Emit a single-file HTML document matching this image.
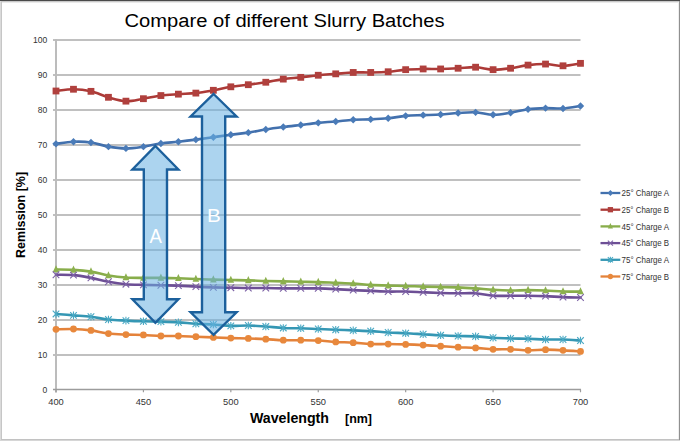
<!DOCTYPE html><html><head><meta charset="utf-8"><style>html,body{margin:0;padding:0;background:#fff;}svg{display:block;}text{font-family:"Liberation Sans",sans-serif;}</style></head><body>
<svg width="680" height="441" viewBox="0 0 680 441">
<rect x="0" y="0" width="680" height="441" fill="#fff"/>
<rect x="0" y="0" width="680" height="1" fill="#4a4a4a"/>
<rect x="0" y="1" width="680" height="1" fill="#c8c8c8"/>
<rect x="0" y="2" width="680" height="1" fill="#eaeaea"/>
<rect x="0" y="1" width="1" height="440" fill="#dadada"/>
<rect x="1" y="2" width="1" height="438" fill="#c6c6c6"/>
<rect x="678" y="2" width="1" height="438" fill="#eeeeee"/>
<rect x="679" y="1" width="1" height="440" fill="#909090"/>
<rect x="1" y="439" width="678" height="1" fill="#c2c2c2"/>
<rect x="0" y="440" width="680" height="1" fill="#d6d6d6"/>
<path d="M53.0,355.00 H580.5 M53.0,320.00 H580.5 M53.0,285.00 H580.5 M53.0,250.00 H580.5 M53.0,215.00 H580.5 M53.0,180.00 H580.5 M53.0,145.00 H580.5 M53.0,110.00 H580.5 M53.0,75.00 H580.5 M53.0,40.00 H580.5" stroke="#c0c0c0" stroke-width="2" fill="none"/>
<path d="M56.0,39.00 V392.50" stroke="#bcbcbc" stroke-width="2" fill="none"/>
<path d="M53.0,389.5 H581.0" stroke="#9c9c9c" stroke-width="1.3" fill="none"/>
<path d="M56.00,389.5 V392.3 M143.42,389.5 V392.3 M230.83,389.5 V392.3 M318.25,389.5 V392.3 M405.67,389.5 V392.3 M493.08,389.5 V392.3 M580.50,389.5 V392.3" stroke="#9c9c9c" stroke-width="1.2" fill="none"/>
<text transform="translate(47.2,392.90) scale(0.88,1)" font-size="9.7" fill="#333" text-anchor="end">0</text>
<text transform="translate(47.2,357.90) scale(0.88,1)" font-size="9.7" fill="#333" text-anchor="end">10</text>
<text transform="translate(47.2,322.90) scale(0.88,1)" font-size="9.7" fill="#333" text-anchor="end">20</text>
<text transform="translate(47.2,287.90) scale(0.88,1)" font-size="9.7" fill="#333" text-anchor="end">30</text>
<text transform="translate(47.2,252.90) scale(0.88,1)" font-size="9.7" fill="#333" text-anchor="end">40</text>
<text transform="translate(47.2,217.90) scale(0.88,1)" font-size="9.7" fill="#333" text-anchor="end">50</text>
<text transform="translate(47.2,182.90) scale(0.88,1)" font-size="9.7" fill="#333" text-anchor="end">60</text>
<text transform="translate(47.2,147.90) scale(0.88,1)" font-size="9.7" fill="#333" text-anchor="end">70</text>
<text transform="translate(47.2,112.90) scale(0.88,1)" font-size="9.7" fill="#333" text-anchor="end">80</text>
<text transform="translate(47.2,77.90) scale(0.88,1)" font-size="9.7" fill="#333" text-anchor="end">90</text>
<text transform="translate(47.2,42.90) scale(0.88,1)" font-size="9.7" fill="#333" text-anchor="end">100</text>
<text x="56.00" y="404.6" font-size="9.3" fill="#333" text-anchor="middle">400</text>
<text x="143.42" y="404.6" font-size="9.3" fill="#333" text-anchor="middle">450</text>
<text x="230.83" y="404.6" font-size="9.3" fill="#333" text-anchor="middle">500</text>
<text x="318.25" y="404.6" font-size="9.3" fill="#333" text-anchor="middle">550</text>
<text x="405.67" y="404.6" font-size="9.3" fill="#333" text-anchor="middle">600</text>
<text x="493.08" y="404.6" font-size="9.3" fill="#333" text-anchor="middle">650</text>
<text x="580.50" y="404.6" font-size="9.3" fill="#333" text-anchor="middle">700</text>
<text x="284.5" y="26.5" font-size="18" fill="#000" text-anchor="middle" textLength="320" lengthAdjust="spacingAndGlyphs">Compare of different Slurry Batches</text>
<text x="289.5" y="422.8" font-size="14" font-weight="bold" fill="#000" text-anchor="middle" textLength="79" lengthAdjust="spacingAndGlyphs">Wavelength</text>
<text x="358.5" y="422.6" font-size="12" font-weight="bold" fill="#000" text-anchor="middle" textLength="27" lengthAdjust="spacingAndGlyphs">[nm]</text>
<text transform="translate(25.4,214.9) rotate(-90)" x="0" y="0" font-size="13" font-weight="bold" fill="#000" text-anchor="middle" textLength="86" lengthAdjust="spacingAndGlyphs">Remission [%]</text>
<path d="M56.00,143.85 C58.91,143.50 67.66,141.98 73.48,141.75 C79.31,141.52 85.14,141.63 90.97,142.45 C96.79,143.27 102.62,145.66 108.45,146.65 C114.28,147.64 120.11,148.40 125.93,148.40 C131.76,148.40 137.59,147.47 143.42,146.65 C149.24,145.83 155.07,144.32 160.90,143.50 C166.73,142.68 172.56,142.39 178.38,141.75 C184.21,141.11 190.04,140.41 195.87,139.65 C201.69,138.89 207.52,138.02 213.35,137.20 C219.18,136.38 225.01,135.51 230.83,134.75 C236.66,133.99 242.49,133.53 248.32,132.65 C254.14,131.78 259.97,130.43 265.80,129.50 C271.63,128.57 277.46,127.81 283.28,127.05 C289.11,126.29 294.94,125.65 300.77,124.95 C306.59,124.25 312.42,123.43 318.25,122.85 C324.08,122.27 329.91,121.98 335.73,121.45 C341.56,120.93 347.39,120.05 353.22,119.70 C359.04,119.35 364.87,119.58 370.70,119.35 C376.53,119.12 382.36,118.88 388.18,118.30 C394.01,117.72 399.84,116.38 405.67,115.85 C411.49,115.32 417.32,115.38 423.15,115.15 C428.98,114.92 434.81,114.80 440.63,114.45 C446.46,114.10 452.29,113.40 458.12,113.05 C463.94,112.70 469.77,112.06 475.60,112.35 C481.43,112.64 487.26,114.74 493.08,114.80 C498.91,114.86 504.74,113.63 510.57,112.70 C516.39,111.77 522.22,109.96 528.05,109.20 C533.88,108.44 539.71,108.27 545.53,108.15 C551.36,108.03 557.19,108.85 563.02,108.50 C568.84,108.15 577.59,106.46 580.50,106.05" stroke="#4270ad" stroke-width="2.6" fill="none" stroke-linejoin="round" stroke-linecap="round"/>
<g><path d="M56.00,140.15 L59.70,143.85 L56.00,147.55 L52.30,143.85 Z" fill="#4a7bb8"/><path d="M73.48,138.05 L77.18,141.75 L73.48,145.45 L69.78,141.75 Z" fill="#4a7bb8"/><path d="M90.97,138.75 L94.67,142.45 L90.97,146.15 L87.27,142.45 Z" fill="#4a7bb8"/><path d="M108.45,142.95 L112.15,146.65 L108.45,150.35 L104.75,146.65 Z" fill="#4a7bb8"/><path d="M125.93,144.70 L129.63,148.40 L125.93,152.10 L122.23,148.40 Z" fill="#4a7bb8"/><path d="M143.42,142.95 L147.12,146.65 L143.42,150.35 L139.72,146.65 Z" fill="#4a7bb8"/><path d="M160.90,139.80 L164.60,143.50 L160.90,147.20 L157.20,143.50 Z" fill="#4a7bb8"/><path d="M178.38,138.05 L182.08,141.75 L178.38,145.45 L174.68,141.75 Z" fill="#4a7bb8"/><path d="M195.87,135.95 L199.57,139.65 L195.87,143.35 L192.17,139.65 Z" fill="#4a7bb8"/><path d="M213.35,133.50 L217.05,137.20 L213.35,140.90 L209.65,137.20 Z" fill="#4a7bb8"/><path d="M230.83,131.05 L234.53,134.75 L230.83,138.45 L227.13,134.75 Z" fill="#4a7bb8"/><path d="M248.32,128.95 L252.02,132.65 L248.32,136.35 L244.62,132.65 Z" fill="#4a7bb8"/><path d="M265.80,125.80 L269.50,129.50 L265.80,133.20 L262.10,129.50 Z" fill="#4a7bb8"/><path d="M283.28,123.35 L286.98,127.05 L283.28,130.75 L279.58,127.05 Z" fill="#4a7bb8"/><path d="M300.77,121.25 L304.47,124.95 L300.77,128.65 L297.07,124.95 Z" fill="#4a7bb8"/><path d="M318.25,119.15 L321.95,122.85 L318.25,126.55 L314.55,122.85 Z" fill="#4a7bb8"/><path d="M335.73,117.75 L339.43,121.45 L335.73,125.15 L332.03,121.45 Z" fill="#4a7bb8"/><path d="M353.22,116.00 L356.92,119.70 L353.22,123.40 L349.52,119.70 Z" fill="#4a7bb8"/><path d="M370.70,115.65 L374.40,119.35 L370.70,123.05 L367.00,119.35 Z" fill="#4a7bb8"/><path d="M388.18,114.60 L391.88,118.30 L388.18,122.00 L384.48,118.30 Z" fill="#4a7bb8"/><path d="M405.67,112.15 L409.37,115.85 L405.67,119.55 L401.97,115.85 Z" fill="#4a7bb8"/><path d="M423.15,111.45 L426.85,115.15 L423.15,118.85 L419.45,115.15 Z" fill="#4a7bb8"/><path d="M440.63,110.75 L444.33,114.45 L440.63,118.15 L436.93,114.45 Z" fill="#4a7bb8"/><path d="M458.12,109.35 L461.82,113.05 L458.12,116.75 L454.42,113.05 Z" fill="#4a7bb8"/><path d="M475.60,108.65 L479.30,112.35 L475.60,116.05 L471.90,112.35 Z" fill="#4a7bb8"/><path d="M493.08,111.10 L496.78,114.80 L493.08,118.50 L489.38,114.80 Z" fill="#4a7bb8"/><path d="M510.57,109.00 L514.27,112.70 L510.57,116.40 L506.87,112.70 Z" fill="#4a7bb8"/><path d="M528.05,105.50 L531.75,109.20 L528.05,112.90 L524.35,109.20 Z" fill="#4a7bb8"/><path d="M545.53,104.45 L549.23,108.15 L545.53,111.85 L541.83,108.15 Z" fill="#4a7bb8"/><path d="M563.02,104.80 L566.72,108.50 L563.02,112.20 L559.32,108.50 Z" fill="#4a7bb8"/><path d="M580.50,102.35 L584.20,106.05 L580.50,109.75 L576.80,106.05 Z" fill="#4a7bb8"/></g>
<path d="M56.00,91.00 C58.91,90.71 67.66,89.19 73.48,89.25 C79.31,89.31 85.14,90.01 90.97,91.35 C96.79,92.69 102.62,95.67 108.45,97.30 C114.28,98.93 120.11,100.92 125.93,101.15 C131.76,101.38 137.59,99.63 143.42,98.70 C149.24,97.77 155.07,96.31 160.90,95.55 C166.73,94.79 172.56,94.56 178.38,94.15 C184.21,93.74 190.04,93.74 195.87,93.10 C201.69,92.46 207.52,91.35 213.35,90.30 C219.18,89.25 225.01,87.73 230.83,86.80 C236.66,85.87 242.49,85.46 248.32,84.70 C254.14,83.94 259.97,83.18 265.80,82.25 C271.63,81.32 277.46,79.92 283.28,79.10 C289.11,78.28 294.94,77.99 300.77,77.35 C306.59,76.71 312.42,75.83 318.25,75.25 C324.08,74.67 329.91,74.32 335.73,73.85 C341.56,73.38 347.39,72.68 353.22,72.45 C359.04,72.22 364.87,72.57 370.70,72.45 C376.53,72.33 382.36,72.22 388.18,71.75 C394.01,71.28 399.84,70.12 405.67,69.65 C411.49,69.18 417.32,69.07 423.15,68.95 C428.98,68.83 434.81,69.07 440.63,68.95 C446.46,68.83 452.29,68.54 458.12,68.25 C463.94,67.96 469.77,66.97 475.60,67.20 C481.43,67.43 487.26,69.48 493.08,69.65 C498.91,69.83 504.74,69.01 510.57,68.25 C516.39,67.49 522.22,65.80 528.05,65.10 C533.88,64.40 539.71,63.93 545.53,64.05 C551.36,64.17 557.19,65.92 563.02,65.80 C568.84,65.68 577.59,63.76 580.50,63.35" stroke="#ac3a37" stroke-width="2.6" fill="none" stroke-linejoin="round" stroke-linecap="round"/>
<g><rect x="52.60" y="87.60" width="6.80" height="6.80" fill="#b0403d"/><rect x="70.08" y="85.85" width="6.80" height="6.80" fill="#b0403d"/><rect x="87.57" y="87.95" width="6.80" height="6.80" fill="#b0403d"/><rect x="105.05" y="93.90" width="6.80" height="6.80" fill="#b0403d"/><rect x="122.53" y="97.75" width="6.80" height="6.80" fill="#b0403d"/><rect x="140.02" y="95.30" width="6.80" height="6.80" fill="#b0403d"/><rect x="157.50" y="92.15" width="6.80" height="6.80" fill="#b0403d"/><rect x="174.98" y="90.75" width="6.80" height="6.80" fill="#b0403d"/><rect x="192.47" y="89.70" width="6.80" height="6.80" fill="#b0403d"/><rect x="209.95" y="86.90" width="6.80" height="6.80" fill="#b0403d"/><rect x="227.43" y="83.40" width="6.80" height="6.80" fill="#b0403d"/><rect x="244.92" y="81.30" width="6.80" height="6.80" fill="#b0403d"/><rect x="262.40" y="78.85" width="6.80" height="6.80" fill="#b0403d"/><rect x="279.88" y="75.70" width="6.80" height="6.80" fill="#b0403d"/><rect x="297.37" y="73.95" width="6.80" height="6.80" fill="#b0403d"/><rect x="314.85" y="71.85" width="6.80" height="6.80" fill="#b0403d"/><rect x="332.33" y="70.45" width="6.80" height="6.80" fill="#b0403d"/><rect x="349.82" y="69.05" width="6.80" height="6.80" fill="#b0403d"/><rect x="367.30" y="69.05" width="6.80" height="6.80" fill="#b0403d"/><rect x="384.78" y="68.35" width="6.80" height="6.80" fill="#b0403d"/><rect x="402.27" y="66.25" width="6.80" height="6.80" fill="#b0403d"/><rect x="419.75" y="65.55" width="6.80" height="6.80" fill="#b0403d"/><rect x="437.23" y="65.55" width="6.80" height="6.80" fill="#b0403d"/><rect x="454.72" y="64.85" width="6.80" height="6.80" fill="#b0403d"/><rect x="472.20" y="63.80" width="6.80" height="6.80" fill="#b0403d"/><rect x="489.68" y="66.25" width="6.80" height="6.80" fill="#b0403d"/><rect x="507.17" y="64.85" width="6.80" height="6.80" fill="#b0403d"/><rect x="524.65" y="61.70" width="6.80" height="6.80" fill="#b0403d"/><rect x="542.13" y="60.65" width="6.80" height="6.80" fill="#b0403d"/><rect x="559.62" y="62.40" width="6.80" height="6.80" fill="#b0403d"/><rect x="577.10" y="59.95" width="6.80" height="6.80" fill="#b0403d"/></g>
<path d="M56.00,269.50 C58.91,269.56 67.66,269.50 73.48,269.85 C79.31,270.20 85.14,270.67 90.97,271.60 C96.79,272.53 102.62,274.46 108.45,275.45 C114.28,276.44 120.11,277.14 125.93,277.55 C131.76,277.96 137.59,277.84 143.42,277.90 C149.24,277.96 155.07,277.84 160.90,277.90 C166.73,277.96 172.56,278.07 178.38,278.25 C184.21,278.43 190.04,278.72 195.87,278.95 C201.69,279.18 207.52,279.47 213.35,279.65 C219.18,279.82 225.01,279.88 230.83,280.00 C236.66,280.12 242.49,280.17 248.32,280.35 C254.14,280.52 259.97,280.87 265.80,281.05 C271.63,281.22 277.46,281.28 283.28,281.40 C289.11,281.52 294.94,281.63 300.77,281.75 C306.59,281.87 312.42,281.92 318.25,282.10 C324.08,282.27 329.91,282.57 335.73,282.80 C341.56,283.03 347.39,283.15 353.22,283.50 C359.04,283.85 364.87,284.55 370.70,284.90 C376.53,285.25 382.36,285.42 388.18,285.60 C394.01,285.77 399.84,285.77 405.67,285.95 C411.49,286.12 417.32,286.47 423.15,286.65 C428.98,286.82 434.81,286.88 440.63,287.00 C446.46,287.12 452.29,287.12 458.12,287.35 C463.94,287.58 469.77,287.99 475.60,288.40 C481.43,288.81 487.26,289.45 493.08,289.80 C498.91,290.15 504.74,290.44 510.57,290.50 C516.39,290.56 522.22,290.15 528.05,290.15 C533.88,290.15 539.71,290.27 545.53,290.50 C551.36,290.73 557.19,291.37 563.02,291.55 C568.84,291.72 577.59,291.55 580.50,291.55" stroke="#88ad4a" stroke-width="2.6" fill="none" stroke-linejoin="round" stroke-linecap="round"/>
<g><path d="M56.00,265.20 L59.30,272.30 L52.70,272.30 Z" fill="#8cb04e"/><path d="M73.48,265.55 L76.78,272.65 L70.18,272.65 Z" fill="#8cb04e"/><path d="M90.97,267.30 L94.27,274.40 L87.67,274.40 Z" fill="#8cb04e"/><path d="M108.45,271.15 L111.75,278.25 L105.15,278.25 Z" fill="#8cb04e"/><path d="M125.93,273.25 L129.23,280.35 L122.63,280.35 Z" fill="#8cb04e"/><path d="M143.42,273.60 L146.72,280.70 L140.12,280.70 Z" fill="#8cb04e"/><path d="M160.90,273.60 L164.20,280.70 L157.60,280.70 Z" fill="#8cb04e"/><path d="M178.38,273.95 L181.68,281.05 L175.08,281.05 Z" fill="#8cb04e"/><path d="M195.87,274.65 L199.17,281.75 L192.57,281.75 Z" fill="#8cb04e"/><path d="M213.35,275.35 L216.65,282.45 L210.05,282.45 Z" fill="#8cb04e"/><path d="M230.83,275.70 L234.13,282.80 L227.53,282.80 Z" fill="#8cb04e"/><path d="M248.32,276.05 L251.62,283.15 L245.02,283.15 Z" fill="#8cb04e"/><path d="M265.80,276.75 L269.10,283.85 L262.50,283.85 Z" fill="#8cb04e"/><path d="M283.28,277.10 L286.58,284.20 L279.98,284.20 Z" fill="#8cb04e"/><path d="M300.77,277.45 L304.07,284.55 L297.47,284.55 Z" fill="#8cb04e"/><path d="M318.25,277.80 L321.55,284.90 L314.95,284.90 Z" fill="#8cb04e"/><path d="M335.73,278.50 L339.03,285.60 L332.43,285.60 Z" fill="#8cb04e"/><path d="M353.22,279.20 L356.52,286.30 L349.92,286.30 Z" fill="#8cb04e"/><path d="M370.70,280.60 L374.00,287.70 L367.40,287.70 Z" fill="#8cb04e"/><path d="M388.18,281.30 L391.48,288.40 L384.88,288.40 Z" fill="#8cb04e"/><path d="M405.67,281.65 L408.97,288.75 L402.37,288.75 Z" fill="#8cb04e"/><path d="M423.15,282.35 L426.45,289.45 L419.85,289.45 Z" fill="#8cb04e"/><path d="M440.63,282.70 L443.93,289.80 L437.33,289.80 Z" fill="#8cb04e"/><path d="M458.12,283.05 L461.42,290.15 L454.82,290.15 Z" fill="#8cb04e"/><path d="M475.60,284.10 L478.90,291.20 L472.30,291.20 Z" fill="#8cb04e"/><path d="M493.08,285.50 L496.38,292.60 L489.78,292.60 Z" fill="#8cb04e"/><path d="M510.57,286.20 L513.87,293.30 L507.27,293.30 Z" fill="#8cb04e"/><path d="M528.05,285.85 L531.35,292.95 L524.75,292.95 Z" fill="#8cb04e"/><path d="M545.53,286.20 L548.83,293.30 L542.23,293.30 Z" fill="#8cb04e"/><path d="M563.02,287.25 L566.32,294.35 L559.72,294.35 Z" fill="#8cb04e"/><path d="M580.50,287.25 L583.80,294.35 L577.20,294.35 Z" fill="#8cb04e"/></g>
<path d="M56.00,274.75 C58.91,274.81 67.66,274.58 73.48,275.10 C79.31,275.62 85.14,276.79 90.97,277.90 C96.79,279.01 102.62,280.70 108.45,281.75 C114.28,282.80 120.11,283.68 125.93,284.20 C131.76,284.72 137.59,284.72 143.42,284.90 C149.24,285.07 155.07,285.13 160.90,285.25 C166.73,285.37 172.56,285.37 178.38,285.60 C184.21,285.83 190.04,286.36 195.87,286.65 C201.69,286.94 207.52,287.17 213.35,287.35 C219.18,287.52 225.01,287.58 230.83,287.70 C236.66,287.82 242.49,287.99 248.32,288.05 C254.14,288.11 259.97,287.99 265.80,288.05 C271.63,288.11 277.46,288.34 283.28,288.40 C289.11,288.46 294.94,288.40 300.77,288.40 C306.59,288.40 312.42,288.28 318.25,288.40 C324.08,288.52 329.91,288.81 335.73,289.10 C341.56,289.39 347.39,289.86 353.22,290.15 C359.04,290.44 364.87,290.62 370.70,290.85 C376.53,291.08 382.36,291.43 388.18,291.55 C394.01,291.67 399.84,291.43 405.67,291.55 C411.49,291.67 417.32,292.02 423.15,292.25 C428.98,292.48 434.81,292.77 440.63,292.95 C446.46,293.12 452.29,293.24 458.12,293.30 C463.94,293.36 469.77,292.89 475.60,293.30 C481.43,293.71 487.26,295.34 493.08,295.75 C498.91,296.16 504.74,295.75 510.57,295.75 C516.39,295.75 522.22,295.69 528.05,295.75 C533.88,295.81 539.71,295.87 545.53,296.10 C551.36,296.33 557.19,296.92 563.02,297.15 C568.84,297.38 577.59,297.44 580.50,297.50" stroke="#6d4f95" stroke-width="2.6" fill="none" stroke-linejoin="round" stroke-linecap="round"/>
<g><path d="M52.70,271.45 L59.30,278.05 M59.30,271.45 L52.70,278.05" stroke="#7d62a6" stroke-width="1.1" fill="none"/><path d="M70.18,271.80 L76.78,278.40 M76.78,271.80 L70.18,278.40" stroke="#7d62a6" stroke-width="1.1" fill="none"/><path d="M87.67,274.60 L94.27,281.20 M94.27,274.60 L87.67,281.20" stroke="#7d62a6" stroke-width="1.1" fill="none"/><path d="M105.15,278.45 L111.75,285.05 M111.75,278.45 L105.15,285.05" stroke="#7d62a6" stroke-width="1.1" fill="none"/><path d="M122.63,280.90 L129.23,287.50 M129.23,280.90 L122.63,287.50" stroke="#7d62a6" stroke-width="1.1" fill="none"/><path d="M140.12,281.60 L146.72,288.20 M146.72,281.60 L140.12,288.20" stroke="#7d62a6" stroke-width="1.1" fill="none"/><path d="M157.60,281.95 L164.20,288.55 M164.20,281.95 L157.60,288.55" stroke="#7d62a6" stroke-width="1.1" fill="none"/><path d="M175.08,282.30 L181.68,288.90 M181.68,282.30 L175.08,288.90" stroke="#7d62a6" stroke-width="1.1" fill="none"/><path d="M192.57,283.35 L199.17,289.95 M199.17,283.35 L192.57,289.95" stroke="#7d62a6" stroke-width="1.1" fill="none"/><path d="M210.05,284.05 L216.65,290.65 M216.65,284.05 L210.05,290.65" stroke="#7d62a6" stroke-width="1.1" fill="none"/><path d="M227.53,284.40 L234.13,291.00 M234.13,284.40 L227.53,291.00" stroke="#7d62a6" stroke-width="1.1" fill="none"/><path d="M245.02,284.75 L251.62,291.35 M251.62,284.75 L245.02,291.35" stroke="#7d62a6" stroke-width="1.1" fill="none"/><path d="M262.50,284.75 L269.10,291.35 M269.10,284.75 L262.50,291.35" stroke="#7d62a6" stroke-width="1.1" fill="none"/><path d="M279.98,285.10 L286.58,291.70 M286.58,285.10 L279.98,291.70" stroke="#7d62a6" stroke-width="1.1" fill="none"/><path d="M297.47,285.10 L304.07,291.70 M304.07,285.10 L297.47,291.70" stroke="#7d62a6" stroke-width="1.1" fill="none"/><path d="M314.95,285.10 L321.55,291.70 M321.55,285.10 L314.95,291.70" stroke="#7d62a6" stroke-width="1.1" fill="none"/><path d="M332.43,285.80 L339.03,292.40 M339.03,285.80 L332.43,292.40" stroke="#7d62a6" stroke-width="1.1" fill="none"/><path d="M349.92,286.85 L356.52,293.45 M356.52,286.85 L349.92,293.45" stroke="#7d62a6" stroke-width="1.1" fill="none"/><path d="M367.40,287.55 L374.00,294.15 M374.00,287.55 L367.40,294.15" stroke="#7d62a6" stroke-width="1.1" fill="none"/><path d="M384.88,288.25 L391.48,294.85 M391.48,288.25 L384.88,294.85" stroke="#7d62a6" stroke-width="1.1" fill="none"/><path d="M402.37,288.25 L408.97,294.85 M408.97,288.25 L402.37,294.85" stroke="#7d62a6" stroke-width="1.1" fill="none"/><path d="M419.85,288.95 L426.45,295.55 M426.45,288.95 L419.85,295.55" stroke="#7d62a6" stroke-width="1.1" fill="none"/><path d="M437.33,289.65 L443.93,296.25 M443.93,289.65 L437.33,296.25" stroke="#7d62a6" stroke-width="1.1" fill="none"/><path d="M454.82,290.00 L461.42,296.60 M461.42,290.00 L454.82,296.60" stroke="#7d62a6" stroke-width="1.1" fill="none"/><path d="M472.30,290.00 L478.90,296.60 M478.90,290.00 L472.30,296.60" stroke="#7d62a6" stroke-width="1.1" fill="none"/><path d="M489.78,292.45 L496.38,299.05 M496.38,292.45 L489.78,299.05" stroke="#7d62a6" stroke-width="1.1" fill="none"/><path d="M507.27,292.45 L513.87,299.05 M513.87,292.45 L507.27,299.05" stroke="#7d62a6" stroke-width="1.1" fill="none"/><path d="M524.75,292.45 L531.35,299.05 M531.35,292.45 L524.75,299.05" stroke="#7d62a6" stroke-width="1.1" fill="none"/><path d="M542.23,292.80 L548.83,299.40 M548.83,292.80 L542.23,299.40" stroke="#7d62a6" stroke-width="1.1" fill="none"/><path d="M559.72,293.85 L566.32,300.45 M566.32,293.85 L559.72,300.45" stroke="#7d62a6" stroke-width="1.1" fill="none"/><path d="M577.20,294.20 L583.80,300.80 M583.80,294.20 L577.20,300.80" stroke="#7d62a6" stroke-width="1.1" fill="none"/></g>
<path d="M56.00,313.95 C58.91,314.18 67.66,314.88 73.48,315.35 C79.31,315.82 85.14,316.05 90.97,316.75 C96.79,317.45 102.62,318.91 108.45,319.55 C114.28,320.19 120.11,320.31 125.93,320.60 C131.76,320.89 137.59,321.12 143.42,321.30 C149.24,321.47 155.07,321.47 160.90,321.65 C166.73,321.82 172.56,322.00 178.38,322.35 C184.21,322.70 190.04,323.40 195.87,323.75 C201.69,324.10 207.52,324.10 213.35,324.45 C219.18,324.80 225.01,325.67 230.83,325.85 C236.66,326.02 242.49,325.38 248.32,325.50 C254.14,325.62 259.97,326.14 265.80,326.55 C271.63,326.96 277.46,327.66 283.28,327.95 C289.11,328.24 294.94,328.12 300.77,328.30 C306.59,328.47 312.42,328.77 318.25,329.00 C324.08,329.23 329.91,329.47 335.73,329.70 C341.56,329.93 347.39,330.17 353.22,330.40 C359.04,330.63 364.87,330.75 370.70,331.10 C376.53,331.45 382.36,332.15 388.18,332.50 C394.01,332.85 399.84,332.91 405.67,333.20 C411.49,333.49 417.32,333.90 423.15,334.25 C428.98,334.60 434.81,335.01 440.63,335.30 C446.46,335.59 452.29,335.82 458.12,336.00 C463.94,336.18 469.77,336.06 475.60,336.35 C481.43,336.64 487.26,337.40 493.08,337.75 C498.91,338.10 504.74,338.27 510.57,338.45 C516.39,338.62 522.22,338.62 528.05,338.80 C533.88,338.97 539.71,339.38 545.53,339.50 C551.36,339.62 557.19,339.32 563.02,339.50 C568.84,339.68 577.59,340.37 580.50,340.55" stroke="#3597b4" stroke-width="2.6" fill="none" stroke-linejoin="round" stroke-linecap="round"/>
<g><path d="M52.70,310.65 L59.30,317.25 M59.30,310.65 L52.70,317.25 M56.00,310.15 L56.00,317.75" stroke="#4aa9c4" stroke-width="1.1" fill="none"/><path d="M70.18,312.05 L76.78,318.65 M76.78,312.05 L70.18,318.65 M73.48,311.55 L73.48,319.15" stroke="#4aa9c4" stroke-width="1.1" fill="none"/><path d="M87.67,313.45 L94.27,320.05 M94.27,313.45 L87.67,320.05 M90.97,312.95 L90.97,320.55" stroke="#4aa9c4" stroke-width="1.1" fill="none"/><path d="M105.15,316.25 L111.75,322.85 M111.75,316.25 L105.15,322.85 M108.45,315.75 L108.45,323.35" stroke="#4aa9c4" stroke-width="1.1" fill="none"/><path d="M122.63,317.30 L129.23,323.90 M129.23,317.30 L122.63,323.90 M125.93,316.80 L125.93,324.40" stroke="#4aa9c4" stroke-width="1.1" fill="none"/><path d="M140.12,318.00 L146.72,324.60 M146.72,318.00 L140.12,324.60 M143.42,317.50 L143.42,325.10" stroke="#4aa9c4" stroke-width="1.1" fill="none"/><path d="M157.60,318.35 L164.20,324.95 M164.20,318.35 L157.60,324.95 M160.90,317.85 L160.90,325.45" stroke="#4aa9c4" stroke-width="1.1" fill="none"/><path d="M175.08,319.05 L181.68,325.65 M181.68,319.05 L175.08,325.65 M178.38,318.55 L178.38,326.15" stroke="#4aa9c4" stroke-width="1.1" fill="none"/><path d="M192.57,320.45 L199.17,327.05 M199.17,320.45 L192.57,327.05 M195.87,319.95 L195.87,327.55" stroke="#4aa9c4" stroke-width="1.1" fill="none"/><path d="M210.05,321.15 L216.65,327.75 M216.65,321.15 L210.05,327.75 M213.35,320.65 L213.35,328.25" stroke="#4aa9c4" stroke-width="1.1" fill="none"/><path d="M227.53,322.55 L234.13,329.15 M234.13,322.55 L227.53,329.15 M230.83,322.05 L230.83,329.65" stroke="#4aa9c4" stroke-width="1.1" fill="none"/><path d="M245.02,322.20 L251.62,328.80 M251.62,322.20 L245.02,328.80 M248.32,321.70 L248.32,329.30" stroke="#4aa9c4" stroke-width="1.1" fill="none"/><path d="M262.50,323.25 L269.10,329.85 M269.10,323.25 L262.50,329.85 M265.80,322.75 L265.80,330.35" stroke="#4aa9c4" stroke-width="1.1" fill="none"/><path d="M279.98,324.65 L286.58,331.25 M286.58,324.65 L279.98,331.25 M283.28,324.15 L283.28,331.75" stroke="#4aa9c4" stroke-width="1.1" fill="none"/><path d="M297.47,325.00 L304.07,331.60 M304.07,325.00 L297.47,331.60 M300.77,324.50 L300.77,332.10" stroke="#4aa9c4" stroke-width="1.1" fill="none"/><path d="M314.95,325.70 L321.55,332.30 M321.55,325.70 L314.95,332.30 M318.25,325.20 L318.25,332.80" stroke="#4aa9c4" stroke-width="1.1" fill="none"/><path d="M332.43,326.40 L339.03,333.00 M339.03,326.40 L332.43,333.00 M335.73,325.90 L335.73,333.50" stroke="#4aa9c4" stroke-width="1.1" fill="none"/><path d="M349.92,327.10 L356.52,333.70 M356.52,327.10 L349.92,333.70 M353.22,326.60 L353.22,334.20" stroke="#4aa9c4" stroke-width="1.1" fill="none"/><path d="M367.40,327.80 L374.00,334.40 M374.00,327.80 L367.40,334.40 M370.70,327.30 L370.70,334.90" stroke="#4aa9c4" stroke-width="1.1" fill="none"/><path d="M384.88,329.20 L391.48,335.80 M391.48,329.20 L384.88,335.80 M388.18,328.70 L388.18,336.30" stroke="#4aa9c4" stroke-width="1.1" fill="none"/><path d="M402.37,329.90 L408.97,336.50 M408.97,329.90 L402.37,336.50 M405.67,329.40 L405.67,337.00" stroke="#4aa9c4" stroke-width="1.1" fill="none"/><path d="M419.85,330.95 L426.45,337.55 M426.45,330.95 L419.85,337.55 M423.15,330.45 L423.15,338.05" stroke="#4aa9c4" stroke-width="1.1" fill="none"/><path d="M437.33,332.00 L443.93,338.60 M443.93,332.00 L437.33,338.60 M440.63,331.50 L440.63,339.10" stroke="#4aa9c4" stroke-width="1.1" fill="none"/><path d="M454.82,332.70 L461.42,339.30 M461.42,332.70 L454.82,339.30 M458.12,332.20 L458.12,339.80" stroke="#4aa9c4" stroke-width="1.1" fill="none"/><path d="M472.30,333.05 L478.90,339.65 M478.90,333.05 L472.30,339.65 M475.60,332.55 L475.60,340.15" stroke="#4aa9c4" stroke-width="1.1" fill="none"/><path d="M489.78,334.45 L496.38,341.05 M496.38,334.45 L489.78,341.05 M493.08,333.95 L493.08,341.55" stroke="#4aa9c4" stroke-width="1.1" fill="none"/><path d="M507.27,335.15 L513.87,341.75 M513.87,335.15 L507.27,341.75 M510.57,334.65 L510.57,342.25" stroke="#4aa9c4" stroke-width="1.1" fill="none"/><path d="M524.75,335.50 L531.35,342.10 M531.35,335.50 L524.75,342.10 M528.05,335.00 L528.05,342.60" stroke="#4aa9c4" stroke-width="1.1" fill="none"/><path d="M542.23,336.20 L548.83,342.80 M548.83,336.20 L542.23,342.80 M545.53,335.70 L545.53,343.30" stroke="#4aa9c4" stroke-width="1.1" fill="none"/><path d="M559.72,336.20 L566.32,342.80 M566.32,336.20 L559.72,342.80 M563.02,335.70 L563.02,343.30" stroke="#4aa9c4" stroke-width="1.1" fill="none"/><path d="M577.20,337.25 L583.80,343.85 M583.80,337.25 L577.20,343.85 M580.50,336.75 L580.50,344.35" stroke="#4aa9c4" stroke-width="1.1" fill="none"/></g>
<path d="M56.00,329.35 C58.91,329.29 67.66,328.82 73.48,329.00 C79.31,329.18 85.14,329.64 90.97,330.40 C96.79,331.16 102.62,332.85 108.45,333.55 C114.28,334.25 120.11,334.37 125.93,334.60 C131.76,334.83 137.59,334.72 143.42,334.95 C149.24,335.18 155.07,335.82 160.90,336.00 C166.73,336.18 172.56,335.88 178.38,336.00 C184.21,336.12 190.04,336.47 195.87,336.70 C201.69,336.93 207.52,337.17 213.35,337.40 C219.18,337.63 225.01,337.92 230.83,338.10 C236.66,338.27 242.49,338.27 248.32,338.45 C254.14,338.62 259.97,338.86 265.80,339.15 C271.63,339.44 277.46,340.02 283.28,340.20 C289.11,340.38 294.94,340.14 300.77,340.20 C306.59,340.26 312.42,340.26 318.25,340.55 C324.08,340.84 329.91,341.60 335.73,341.95 C341.56,342.30 347.39,342.30 353.22,342.65 C359.04,343.00 364.87,343.82 370.70,344.05 C376.53,344.28 382.36,343.99 388.18,344.05 C394.01,344.11 399.84,344.22 405.67,344.40 C411.49,344.57 417.32,344.81 423.15,345.10 C428.98,345.39 434.81,345.80 440.63,346.15 C446.46,346.50 452.29,346.91 458.12,347.20 C463.94,347.49 469.77,347.55 475.60,347.90 C481.43,348.25 487.26,349.07 493.08,349.30 C498.91,349.53 504.74,349.12 510.57,349.30 C516.39,349.47 522.22,350.29 528.05,350.35 C533.88,350.41 539.71,349.65 545.53,349.65 C551.36,349.65 557.19,350.06 563.02,350.35 C568.84,350.64 577.59,351.22 580.50,351.40" stroke="#e4823a" stroke-width="2.6" fill="none" stroke-linejoin="round" stroke-linecap="round"/>
<g><circle cx="56.00" cy="329.35" r="3.40" fill="#e8883c"/><circle cx="73.48" cy="329.00" r="3.40" fill="#e8883c"/><circle cx="90.97" cy="330.40" r="3.40" fill="#e8883c"/><circle cx="108.45" cy="333.55" r="3.40" fill="#e8883c"/><circle cx="125.93" cy="334.60" r="3.40" fill="#e8883c"/><circle cx="143.42" cy="334.95" r="3.40" fill="#e8883c"/><circle cx="160.90" cy="336.00" r="3.40" fill="#e8883c"/><circle cx="178.38" cy="336.00" r="3.40" fill="#e8883c"/><circle cx="195.87" cy="336.70" r="3.40" fill="#e8883c"/><circle cx="213.35" cy="337.40" r="3.40" fill="#e8883c"/><circle cx="230.83" cy="338.10" r="3.40" fill="#e8883c"/><circle cx="248.32" cy="338.45" r="3.40" fill="#e8883c"/><circle cx="265.80" cy="339.15" r="3.40" fill="#e8883c"/><circle cx="283.28" cy="340.20" r="3.40" fill="#e8883c"/><circle cx="300.77" cy="340.20" r="3.40" fill="#e8883c"/><circle cx="318.25" cy="340.55" r="3.40" fill="#e8883c"/><circle cx="335.73" cy="341.95" r="3.40" fill="#e8883c"/><circle cx="353.22" cy="342.65" r="3.40" fill="#e8883c"/><circle cx="370.70" cy="344.05" r="3.40" fill="#e8883c"/><circle cx="388.18" cy="344.05" r="3.40" fill="#e8883c"/><circle cx="405.67" cy="344.40" r="3.40" fill="#e8883c"/><circle cx="423.15" cy="345.10" r="3.40" fill="#e8883c"/><circle cx="440.63" cy="346.15" r="3.40" fill="#e8883c"/><circle cx="458.12" cy="347.20" r="3.40" fill="#e8883c"/><circle cx="475.60" cy="347.90" r="3.40" fill="#e8883c"/><circle cx="493.08" cy="349.30" r="3.40" fill="#e8883c"/><circle cx="510.57" cy="349.30" r="3.40" fill="#e8883c"/><circle cx="528.05" cy="350.35" r="3.40" fill="#e8883c"/><circle cx="545.53" cy="349.65" r="3.40" fill="#e8883c"/><circle cx="563.02" cy="350.35" r="3.40" fill="#e8883c"/><circle cx="580.50" cy="351.40" r="3.40" fill="#e8883c"/></g>
<path d="M600.5,193.00 H620.3" stroke="#4270ad" stroke-width="2.3"/>
<path d="M610.40,190.11 L613.29,193.00 L610.40,195.89 L607.51,193.00 Z" fill="#4a7bb8"/>
<text x="621.5" y="196.20" font-size="8.8" fill="#333" textLength="47.6" lengthAdjust="spacingAndGlyphs">25° Charge A</text>
<path d="M600.5,209.70 H620.3" stroke="#ac3a37" stroke-width="2.3"/>
<rect x="607.75" y="207.05" width="5.30" height="5.30" fill="#b0403d"/>
<text x="621.5" y="212.90" font-size="8.8" fill="#333" textLength="47.6" lengthAdjust="spacingAndGlyphs">25° Charge B</text>
<path d="M600.5,226.40 H620.3" stroke="#88ad4a" stroke-width="2.3"/>
<path d="M610.40,223.05 L612.97,228.58 L607.83,228.58 Z" fill="#8cb04e"/>
<text x="621.5" y="229.60" font-size="8.8" fill="#333" textLength="47.6" lengthAdjust="spacingAndGlyphs">45° Charge A</text>
<path d="M600.5,243.10 H620.3" stroke="#6d4f95" stroke-width="2.3"/>
<path d="M607.83,240.53 L612.97,245.67 M612.97,240.53 L607.83,245.67" stroke="#7d62a6" stroke-width="1.1" fill="none"/>
<text x="621.5" y="246.30" font-size="8.8" fill="#333" textLength="47.6" lengthAdjust="spacingAndGlyphs">45° Charge B</text>
<path d="M600.5,259.80 H620.3" stroke="#3597b4" stroke-width="2.3"/>
<path d="M607.83,257.23 L612.97,262.37 M612.97,257.23 L607.83,262.37 M610.40,256.84 L610.40,262.76" stroke="#4aa9c4" stroke-width="1.1" fill="none"/>
<text x="621.5" y="263.00" font-size="8.8" fill="#333" textLength="47.6" lengthAdjust="spacingAndGlyphs">75° Charge A</text>
<path d="M600.5,276.50 H620.3" stroke="#e4823a" stroke-width="2.3"/>
<circle cx="610.40" cy="276.50" r="2.65" fill="#e8883c"/>
<text x="621.5" y="279.70" font-size="8.8" fill="#333" textLength="47.6" lengthAdjust="spacingAndGlyphs">75° Charge B</text>
<path d="M155.40,146.00 L178.40,169.50 L167.00,169.50 L167.00,299.30 L178.40,299.30 L155.40,322.80 L132.40,299.30 L143.80,299.30 L143.80,169.50 L132.40,169.50 Z" fill="#68b1e2" fill-opacity="0.55" stroke="#1c609c" stroke-width="2.4" stroke-linejoin="miter"/>
<path d="M213.60,94.00 L236.60,116.50 L225.20,116.50 L225.20,312.30 L236.60,312.30 L213.60,334.80 L190.60,312.30 L202.00,312.30 L202.00,116.50 L190.60,116.50 Z" fill="#68b1e2" fill-opacity="0.55" stroke="#1c609c" stroke-width="2.4" stroke-linejoin="miter"/>
<text x="149.4" y="242.9" font-size="20.5" fill="#fff" textLength="12.4" lengthAdjust="spacingAndGlyphs">A</text>
<text transform="translate(213.8,221.9) scale(1.12,1)" x="0" y="0" font-size="18.5" fill="#fff" text-anchor="middle">B</text>
</svg></body></html>
